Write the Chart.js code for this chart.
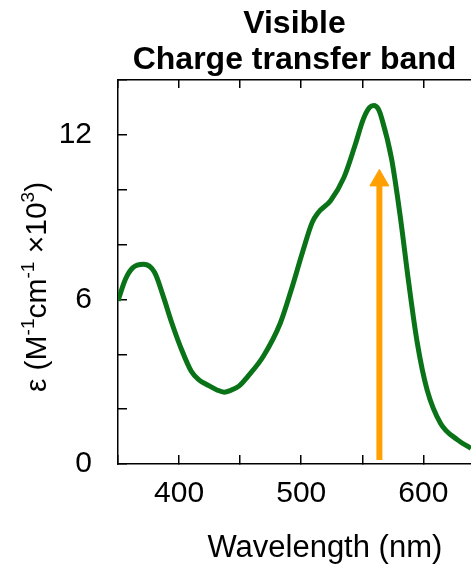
<!DOCTYPE html>
<html>
<head>
<meta charset="utf-8">
<script src="https://cdn.jsdelivr.net/npm/chart.js@4"></script>
<style>
html,body{margin:0;padding:0;background:#fff;overflow:hidden}
#wrap{width:471px;height:564px;position:relative}
</style>
</head>
<body>
<div id="wrap"><canvas id="specChart"></canvas></div>
<script>
// absorption spectrum
const wavelengths = [350,356,362,371,380,387,394,401,410,416,423,431,437,442,449,456,469,483,492,501,509,514,524,535,544,551,556,559.5,563,566,574,581,588,595,603,614,628,639]
const epsilon = [5.95,6.73,7.15,7.28,6.98,6.12,5.15,4.29,3.38,3.08,2.89,2.7,2.62,2.68,2.84,3.18,3.93,5.15,6.37,7.71,8.81,9.17,9.6,10.45,11.61,12.59,13.0,13.07,12.95,12.59,11.12,9.05,6.61,4.42,2.71,1.49,0.88,0.57]

// excitation arrow (wavelength, from / to)
const arrowX = [564,564]
const arrowY = [0.15,10.34]

const yTickLabels = [0,6,12]
const xTickLabels = [400,500,600]

const titleLines = ['Visible','Charge transfer band']
const xTitle = 'Wavelength (nm)'
const yTitleParts = [['ε (M',0],['-1',1],['cm',0],['-1',1],[' ×10',0],['3',1],[')',0]]

const green = '#0a7318'
const orange = '#ffa000'

Chart.defaults.font.family = '"Liberation Sans", Arial, Helvetica, sans-serif'
Chart.defaults.color = '#000'

const axisTitles = {
id:'axisTitles',
afterDraw(chart){
const {ctx, chartArea} = chart
ctx.save()
ctx.fillStyle = '#000'
ctx.textBaseline = 'alphabetic'
ctx.font = '31px "Liberation Sans", Arial, sans-serif'
ctx.textAlign = 'center'
ctx.fillText(xTitle, chartArea.left + chartArea.width*0.586, 557)

// y title, rotated, with superscripts
const big = '30px "Liberation Sans", Arial, sans-serif'
const small = '19px "Liberation Sans", Arial, sans-serif'
let total = 0
yTitleParts.forEach(p=>{
ctx.font = p[1] ? small : big
total += ctx.measureText(p[0]).width
})
ctx.translate(46, (chartArea.top+chartArea.bottom)/2 + 15)
ctx.rotate(-Math.PI/2)
ctx.textAlign = 'left'
let x = -total/2
yTitleParts.forEach(p=>{
ctx.font = p[1] ? small : big
ctx.fillText(p[0], x, p[1] ? -12 : 0)
x += ctx.measureText(p[0]).width
})
ctx.restore()
}
}

const ctx1 = document.getElementById('specChart')

new Chart(ctx1,{
type:'line',
data:{
datasets:[{
label:'spectrum',
data:wavelengths.map((w,i)=>({x:w,y:epsilon[i]})),
borderColor:green,
borderWidth:5,
pointRadius:0,
cubicInterpolationMode:'monotone',
fill:false
},
{
label:'arrow',
data:arrowX.map((w,i)=>({x:w,y:arrowY[i]})),
borderColor:orange,
borderWidth:6,
borderCapStyle:'butt',
pointRadius:[0,11],
pointStyle:'triangle',
pointBackgroundColor:orange,
pointBorderColor:orange,
pointBorderWidth:1,
fill:false
}]
},
options:{
responsive:true,
maintainAspectRatio:false,
animation:false,
events:[],
layout:{padding:0,autoPadding:false},
plugins:{
legend:{display:false},
tooltip:{enabled:false},
title:{
display:true,
text:titleLines,
fullSize:false,
color:'#000',
font:{size:32,weight:'bold',lineHeight:1.125},
padding:{top:6.5,bottom:1.5}
}
},
scales:{
x:{
type:'linear',
position:'bottom',
min:350,
max:639,
afterFit(s){ s.height = 100; s.paddingLeft = 0; s.paddingRight = 0 },
border:{display:true,color:'#000',width:1.5},
grid:{drawOnChartArea:false,color:'#000',lineWidth:1.5,tickLength:-9},
ticks:{
stepSize:50,
includeBounds:false,
maxRotation:0,
autoSkip:false,
padding:21,
font:{size:30},
callback:v=>xTickLabels.includes(v) ? String(v) : ''
}
},
x2:{
type:'linear',
position:'top',
min:350,
max:639,
afterFit(s){ s.height = 0; s.paddingLeft = 0; s.paddingRight = 0 },
border:{display:true,color:'#000',width:1.5},
grid:{drawOnChartArea:false,color:'#000',lineWidth:1.5,tickLength:-8},
ticks:{display:false,stepSize:50,includeBounds:false}
},
y:{
min:0,
max:14,
afterFit(s){ s.width = 118; s.paddingTop = 0; s.paddingBottom = 0 },
border:{display:true,color:'#000',width:1.5},
grid:{drawOnChartArea:false,color:'#000',lineWidth:1.5,tickLength:-9},
ticks:{
stepSize:2,
autoSkip:false,
padding:35,
font:{size:30},
callback:v=>yTickLabels.includes(v) ? String(v) : ''
}
}
}
},
plugins:[axisTitles]
})
</script>
</body>
</html>
